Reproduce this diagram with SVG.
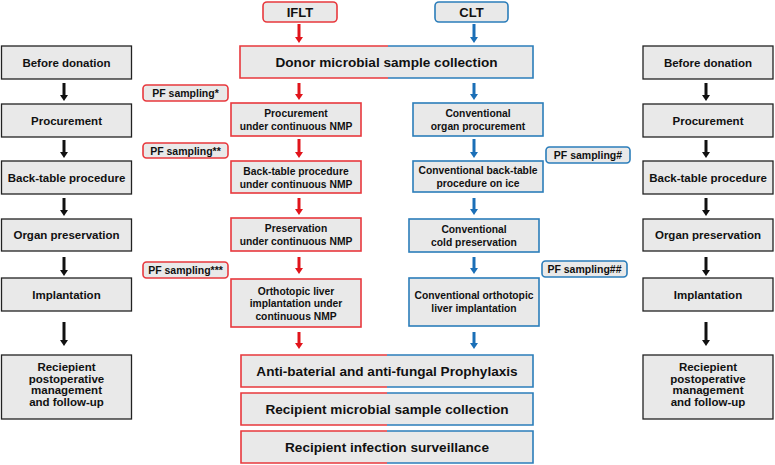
<svg xmlns="http://www.w3.org/2000/svg" width="775" height="465" viewBox="0 0 775 465">
<defs>
<marker id="hr" markerUnits="userSpaceOnUse" markerWidth="6" markerHeight="8" viewBox="0 0 6 8" refX="0" refY="4" orient="auto"><path d="M0,0 L6,4 L0,8 z" fill="#e1141b"/></marker>
<marker id="hb" markerUnits="userSpaceOnUse" markerWidth="6" markerHeight="8" viewBox="0 0 6 8" refX="0" refY="4" orient="auto"><path d="M0,0 L6,4 L0,8 z" fill="#1b6fb7"/></marker>
<marker id="hk" markerUnits="userSpaceOnUse" markerWidth="6" markerHeight="8" viewBox="0 0 6 8" refX="0" refY="4" orient="auto"><path d="M0,0 L6,4 L0,8 z" fill="#111"/></marker>
</defs>
<style>
text{font-family:"Liberation Sans",Arial,sans-serif;font-weight:bold;fill:#111;text-anchor:middle}
.g{fill:#e9e9e9;stroke:#222;stroke-width:1.3}
.r{fill:#e9e9e9;stroke:#e8383d;stroke-width:1.6}
.b{fill:#e9e9e9;stroke:#2b7dba;stroke-width:1.6}
.f{fill:#e9e9e9;stroke:none}
.rl{fill:none;stroke:#e8383d;stroke-width:1.6}
.bl{fill:none;stroke:#2b7dba;stroke-width:1.6}
.s{font-size:11.5px}
.m{font-size:10.3px}
.p{font-size:10.5px}
.h{font-size:13px}
.L{font-size:13.6px}
.ar{stroke:#e1141b;stroke-width:3;marker-end:url(#hr)}
.ab{stroke:#1b6fb7;stroke-width:3;marker-end:url(#hb)}
.ak{stroke:#111;stroke-width:3;marker-end:url(#hk)}
</style>
<rect width="775" height="465" fill="#fff"/>

<!-- left column -->
<g id="L1"><rect class="g" x="1.5" y="46" width="130" height="33"/><text class="s" x="66.5" y="66.5">Before donation</text></g>
<g id="L2"><rect class="g" x="1.5" y="104" width="130" height="33"/><text class="s" x="66.5" y="124.5">Procurement</text></g>
<g id="L3"><rect class="g" x="1.5" y="161" width="130" height="33"/><text class="s" x="66.5" y="181.5">Back-table procedure</text></g>
<g id="L4"><rect class="g" x="1.5" y="219" width="130" height="32"/><text class="s" x="66.5" y="239">Organ preservation</text></g>
<g id="L5"><rect class="g" x="1.5" y="278" width="130" height="33"/><text class="s" x="66.5" y="298.5">Implantation</text></g>
<g id="L6"><rect class="g" x="1.5" y="355" width="130" height="64"/><text class="s" x="66.5" y="371">Reciepient</text><text class="s" x="66.5" y="382.5">postoperative</text><text class="s" x="66.5" y="394">management</text><text class="s" x="66.5" y="405.5">and follow-up</text></g>

<!-- right column -->
<g id="R1"><rect class="g" x="643" y="46" width="130" height="33"/><text class="s" x="708" y="66.5">Before donation</text></g>
<g id="R2"><rect class="g" x="643" y="104" width="130" height="33"/><text class="s" x="708" y="124.5">Procurement</text></g>
<g id="R3"><rect class="g" x="643" y="161" width="130" height="33"/><text class="s" x="708" y="181.5">Back-table procedure</text></g>
<g id="R4"><rect class="g" x="643" y="219" width="130" height="32"/><text class="s" x="708" y="239">Organ preservation</text></g>
<g id="R5"><rect class="g" x="643" y="278" width="130" height="33"/><text class="s" x="708" y="298.5">Implantation</text></g>
<g id="R6"><rect class="g" x="643" y="355" width="130" height="64"/><text class="s" x="708" y="371">Reciepient</text><text class="s" x="708" y="382.5">postoperative</text><text class="s" x="708" y="394">management</text><text class="s" x="708" y="405.5">and follow-up</text></g>

<!-- headers -->
<g id="IFLT"><rect class="r" x="263" y="2" width="74" height="20" rx="4"/><text class="h" x="300" y="17">IFLT</text></g>
<g id="CLT"><rect class="b" x="435" y="2" width="73" height="20" rx="4"/><text class="h" x="471.5" y="17">CLT</text></g>

<!-- donor -->
<g id="donor"><rect class="f" x="240" y="46" width="293" height="32"/><path class="rl" d="M388,46 H240 V78 H388"/><path class="bl" d="M388,46 H533 V78 H388"/><text class="L" x="386.5" y="67">Donor microbial sample collection</text></g>

<!-- PF sampling -->
<g id="pf1"><rect class="r" x="143" y="85" width="85" height="16" rx="3.5"/><text class="p" x="185.5" y="97">PF sampling*</text></g>
<g id="pf2"><rect class="r" x="143" y="143" width="85" height="15" rx="3.5"/><text class="p" x="185.5" y="154.5">PF sampling**</text></g>
<g id="pf3"><rect class="r" x="143" y="262" width="85" height="16" rx="3.5"/><text class="p" x="185.5" y="274">PF sampling***</text></g>
<g id="pf4"><rect class="b" x="546" y="147" width="84" height="16" rx="3.5"/><text class="p" x="588" y="159">PF sampling#</text></g>
<g id="pf5"><rect class="b" x="542" y="261" width="85" height="16" rx="3.5"/><text class="p" x="584.5" y="273">PF sampling##</text></g>

<!-- IFLT column -->
<g id="I1"><rect class="r" x="231" y="103" width="130" height="33"/><text class="m" x="296" y="117">Procurement</text><text class="m" x="296" y="130">under continuous NMP</text></g>
<g id="I2"><rect class="r" x="231" y="161" width="130" height="32"/><text class="m" x="296" y="174.5">Back-table procedure</text><text class="m" x="296" y="187.5">under continuous NMP</text></g>
<g id="I3"><rect class="r" x="231" y="218" width="130" height="33"/><text class="m" x="296" y="232">Preservation</text><text class="m" x="296" y="245">under continuous NMP</text></g>
<g id="I4"><rect class="r" x="231" y="279" width="130" height="48"/><text class="m" x="296" y="294.5">Orthotopic liver</text><text class="m" x="296" y="307">implantation under</text><text class="m" x="296" y="319.5">continuous NMP</text></g>

<!-- CLT column -->
<g id="C1"><rect class="b" x="413" y="103" width="130" height="33"/><text class="m" x="478" y="117">Conventional</text><text class="m" x="478" y="130">organ procurement</text></g>
<g id="C2"><rect class="b" x="413" y="161" width="130" height="31"/><text class="m" x="478" y="174">Conventional back-table</text><text class="m" x="478" y="187">procedure on ice</text></g>
<g id="C3"><rect class="b" x="409" y="219" width="130" height="33"/><text class="m" x="474" y="233">Conventional</text><text class="m" x="474" y="246">cold preservation</text></g>
<g id="C4"><rect class="b" x="409" y="278" width="130" height="48"/><text class="m" x="474" y="299">Conventional orthotopic</text><text class="m" x="474" y="312">liver implantation</text></g>

<!-- bottom shared -->
<g id="B1"><rect class="f" x="241" y="355" width="292" height="32"/><path class="rl" d="M387,355 H241 V387 H387"/><path class="bl" d="M387,355 H533 V387 H387"/><text class="L" x="387" y="376">Anti-baterial and anti-fungal Prophylaxis</text></g>
<g id="B2"><rect class="f" x="241" y="393" width="292" height="32"/><path class="rl" d="M387,393 H241 V425 H387"/><path class="bl" d="M387,393 H533 V425 H387"/><text class="L" x="387" y="414">Recipient microbial sample collection</text></g>
<g id="B3"><rect class="f" x="241" y="431" width="292" height="32"/><path class="rl" d="M387,431 H241 V463 H387"/><path class="bl" d="M387,431 H533 V463 H387"/><text class="L" x="387" y="452">Recipient infection surveillance</text></g>

<!-- connectors -->
<g id="connectors">
<line class="ar" x1="299" y1="24" x2="299" y2="37"/>
<line class="ar" x1="299" y1="83" x2="299" y2="94"/>
<line class="ar" x1="299" y1="139" x2="299" y2="152"/>
<line class="ar" x1="299" y1="198" x2="299" y2="209"/>
<line class="ar" x1="299" y1="257" x2="299" y2="268"/>
<line class="ar" x1="299" y1="332" x2="299" y2="343"/>
<line class="ab" x1="474" y1="24" x2="474" y2="37"/>
<line class="ab" x1="474" y1="83" x2="474" y2="94"/>
<line class="ab" x1="474" y1="139" x2="474" y2="152"/>
<line class="ab" x1="474" y1="198" x2="474" y2="209"/>
<line class="ab" x1="474" y1="257" x2="474" y2="268"/>
<line class="ab" x1="474" y1="332" x2="474" y2="343"/>
<line class="ak" x1="64" y1="83" x2="64" y2="95"/>
<line class="ak" x1="64" y1="140" x2="64" y2="152"/>
<line class="ak" x1="64" y1="198" x2="64" y2="210"/>
<line class="ak" x1="64" y1="257" x2="64" y2="270"/>
<line class="ak" x1="64" y1="322" x2="64" y2="340"/>
<line class="ak" x1="706" y1="83" x2="706" y2="95"/>
<line class="ak" x1="706" y1="140" x2="706" y2="152"/>
<line class="ak" x1="706" y1="198" x2="706" y2="210"/>
<line class="ak" x1="706" y1="257" x2="706" y2="270"/>
<line class="ak" x1="706" y1="322" x2="706" y2="340"/>
</g>
</svg>
